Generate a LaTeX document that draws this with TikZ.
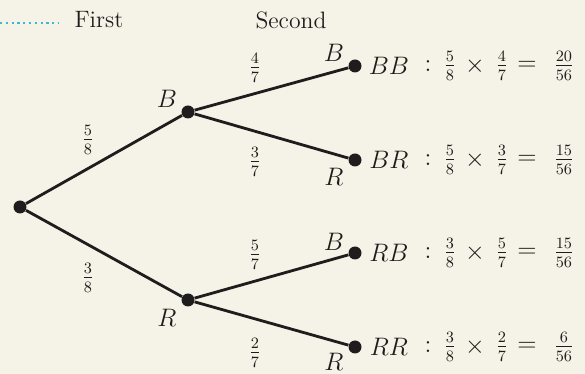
\documentclass[tikz,border=0pt]{standalone}
\usepackage{amsmath}
\usetikzlibrary{positioning}
\definecolor{paper}{RGB}{245,243,231}
\definecolor{ink}{RGB}{30,28,28}
\definecolor{guide}{RGB}{60,185,210}

\begin{document}
\begin{tikzpicture}[
    x=0.02cm, y=-0.02cm,
    dot/.style={circle, fill=ink, inner sep=0pt, minimum size=0.26cm},
    branch/.style={draw=ink, line width=1.6pt},
    txt/.style={text=ink, font=\fontsize{13.5}{16}\selectfont, inner sep=0pt},
    prob/.style={txt}
]

% background and frame
\fill[paper] (0,0) rectangle (585,374);
\useasboundingbox (0,0) rectangle (585,374);

% headings
\coordinate (g0) at (0,23);
\coordinate (g1) at (58,23);
\draw[guide, line width=1.3pt, dotted] (g0) -- (g1);
\node[txt] (first) at (99,20) {First};
\node[txt] (second) at (291,20) {Second};

% first draw
\node[dot] (root) at (20,207) {};
\node[dot] (b) at (188,112) {};
\node[dot] (r) at (188,300) {};
\node[txt] (bl) at (167,99) {$B$};
\node[txt] (rl) at (167,318) {$R$};
\node[prob] (pb) at (88,140) {$\tfrac{5}{8}$};
\node[prob] (pr) at (88,278) {$\tfrac{3}{8}$};
\draw[branch] (root) -- (b);
\draw[branch] (root) -- (r);

% second draw
\foreach \nm/\y/\fa/\fb/\res/\lt/\ly/\py [count=\k] in {
    BB/66/5/4/20/B/53/68,
    BR/160/5/3/15/R/177/162,
    RB/253/3/5/15/B/242/255,
    RR/347/3/2/6/R/362/353} {
    \node[dot] (l\k) at (355,\y) {};
    \node[txt] (lt\k) at (334,\ly) {$\lt$};
    \node[prob] (p\k) at (255,\py) {$\tfrac{\fb}{7}$};
    \node[txt] (n\k) at (389,\y) {$\nm$};
    \node[txt] (c\k) at (428,\y) {$:$};
    \node[txt] (fa\k) at (450,\y) {$\tfrac{\fa}{8}$};
    \node[txt] (x\k) at (475,\y) {$\times$};
    \node[txt] (fb\k) at (502,\y) {$\tfrac{\fb}{7}$};
    \node[txt] (e\k) at (527,\y) {$=$};
    \node[txt] (res\k) at (564,\y) {$\tfrac{\res}{56}$};
}
\draw[branch] (b) -- (l1);
\draw[branch] (b) -- (l2);
\draw[branch] (r) -- (l3);
\draw[branch] (r) -- (l4);

\end{tikzpicture}
\end{document}
